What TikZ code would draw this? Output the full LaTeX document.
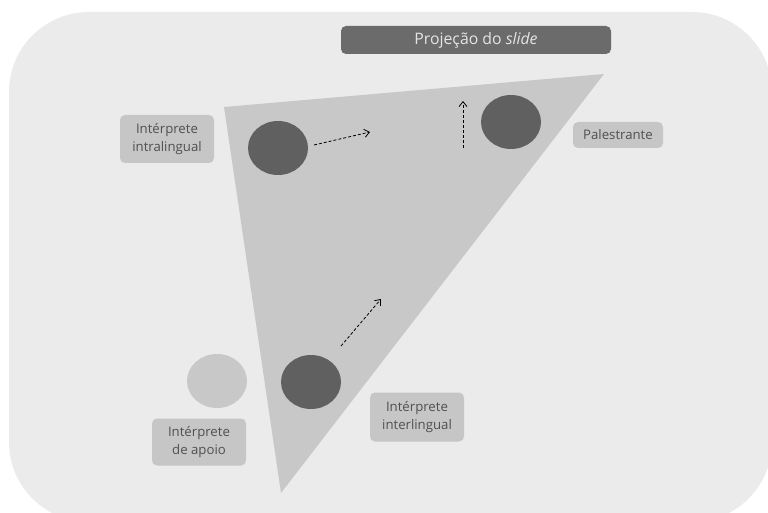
\documentclass[tikz,border=0pt]{standalone}
\usepackage{fontspec}
\setmainfont{Open Sans}
\usetikzlibrary{arrows.meta,shapes.geometric}
\definecolor{bgpanel}{HTML}{EBEBEB}
\definecolor{stage}{HTML}{C8C8C8}
\definecolor{person}{HTML}{606060}
\definecolor{helper}{HTML}{C8C8C8}
\definecolor{tag}{HTML}{C6C6C6}
\definecolor{tagtext}{HTML}{505050}
\definecolor{banner}{HTML}{6B6B6B}
\definecolor{bannertext}{HTML}{E4E4E4}
\tikzset{
  person/.style={ellipse, fill=person, minimum width=60pt, minimum height=54pt, inner sep=0pt},
  helper/.style={ellipse, fill=helper, minimum width=60pt, minimum height=54pt, inner sep=0pt},
  tagbox/.style={fill=tag, rounded corners=5pt, text=tagtext, font=\fontsize{13.2}{18}\selectfont,
                 align=center, inner sep=0pt},
  move/.style={densely dashed, line width=0.8pt, -{Straight Barb[length=5pt,width=8pt]}},
}
\begin{document}
\begin{tikzpicture}[x=1pt,y=-1pt]
\useasboundingbox (0,0) rectangle (768,513);
\begin{scope}
  \clip (0,0) rectangle (768,513);
  \fill[bgpanel, rounded corners=80pt] (9,12) rectangle (772,522);
\end{scope}
% seating triangle
\coordinate (tl) at (224,107);
\coordinate (tr) at (604,74);
\coordinate (bt) at (281,493);
\fill[stage] (tl) -- (tr) -- (bt) -- cycle;
% slide projection banner
\node[fill=banner, rounded corners=5pt, text=bannertext, font=\fontsize{15.8}{18}\selectfont,
      minimum width=270pt, minimum height=28pt, inner sep=0pt] (slide) at (476,40)
      {Projeção do \textit{slide}};
% people
\node[person] (intra) at (278,148) {};
\node[person] (spk) at (511,122) {};
\node[person] (inter) at (311,382) {};
\node[helper] (apoio) at (217,381) {};
% labels
\node[tagbox, minimum width=94pt, minimum height=48pt] (lintra) at (167,139) {Intérprete\\intralingual};
\node[tagbox, minimum width=90pt, minimum height=26pt] (lspk) at (618,135) {Palestrante};
\node[tagbox, minimum width=94pt, minimum height=47pt] (lapoio) at (199,442) {Intérprete\\de apoio};
\node[tagbox, minimum width=94pt, minimum height=49pt] (linter) at (417,417) {Intérprete\\interlingual};
% gaze directions
\coordinate (a1s) at (314,145); \coordinate (a1e) at (370,132);
\coordinate (a2s) at (463,148); \coordinate (a2e) at (463,101);
\coordinate (a3s) at (341,346); \coordinate (a3e) at (381,299);
\draw[move] (a1s) -- (a1e);
\draw[move] (a2s) -- (a2e);
\draw[move] (a3s) -- (a3e);
\end{tikzpicture}
\end{document}
